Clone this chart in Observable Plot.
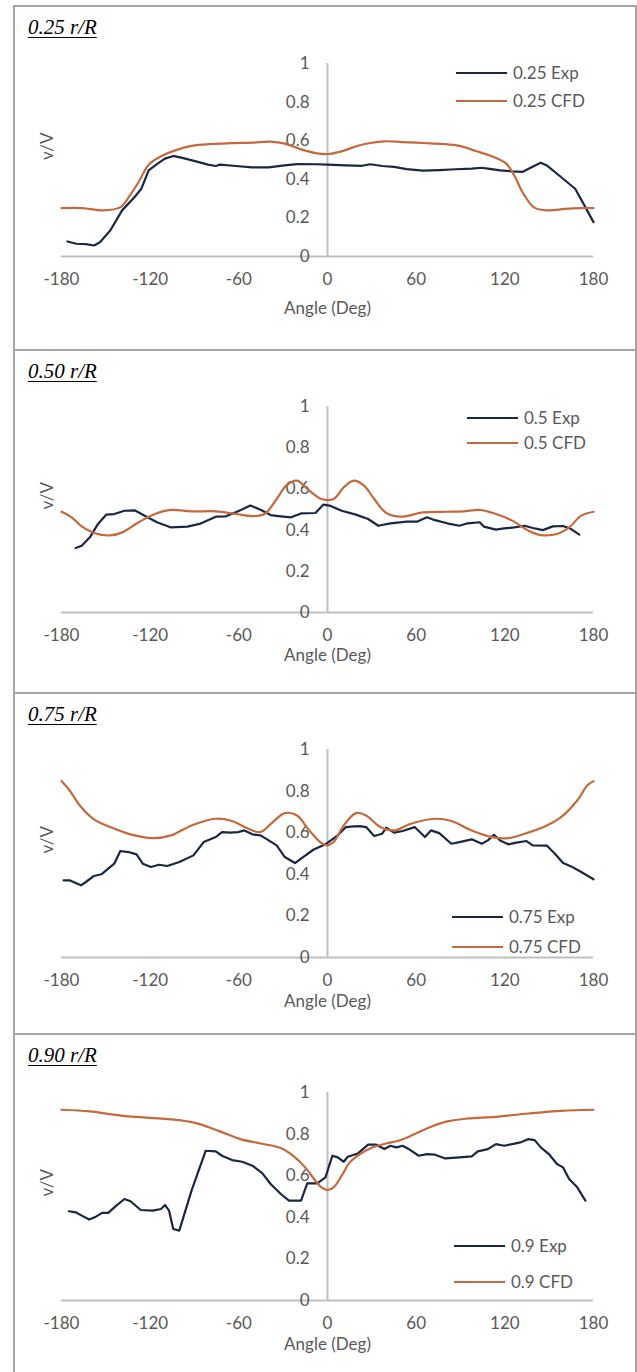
<!DOCTYPE html>
<html><head><meta charset="utf-8">
<script src="https://cdn.jsdelivr.net/npm/d3@7"></script>
<script src="https://cdn.jsdelivr.net/npm/@observablehq/plot@0.6"></script>
<style>
body{margin:0;background:#fff;}
#page{position:relative;width:637px;height:1372px;overflow:hidden;font-family:Lato,"Open Sans",sans-serif;background:#fff;}
.panel{position:absolute;left:13px;width:624px;border:2px solid #a6a6a6;border-bottom:none;box-sizing:border-box;}
.title{position:absolute;left:28px;font-family:"Liberation Serif","Times New Roman",serif;font-style:italic;font-size:21px;line-height:21px;text-decoration:underline;text-decoration-thickness:1px;text-underline-offset:3px;color:#000;white-space:nowrap;}
.chart{position:absolute;left:0;}
.lg-line{position:absolute;height:2.4px;width:51px;}
.lg-text{position:absolute;font-size:17px;line-height:20px;color:#595959;white-space:nowrap;}
</style></head>
<body><div id="page"></div>
<script>
// ---- data ----
const xTicks = [-180, -120, -60, 0, 60, 120, 180];
const yTicks = [0, 0.2, 0.4, 0.6, 0.8, 1];
const yTickLabels = ["0", "0.2", "0.4", "0.6", "0.8", "1"];
const xTitle = "Angle (Deg)";
const yTitle = "v/V";
const panelTitles = ["0.25 r/R", "0.50 r/R", "0.75 r/R", "0.90 r/R"];
const expNames = ["0.25 Exp", "0.5 Exp", "0.75 Exp", "0.9 Exp"];
const cfdNames = ["0.25 CFD", "0.5 CFD", "0.75 CFD", "0.9 CFD"];

const exp025 = [[-176,0.078],[-170,0.066],[-163.5,0.064],[-158,0.057],[-154,0.074],[-147,0.135],[-139,0.239],[-130.5,0.308],[-126,0.351],[-121,0.446],[-115,0.481],[-110,0.507],[-104.4,0.521],[-97.6,0.51],[-89,0.493],[-81,0.476],[-75.6,0.469],[-72.8,0.476],[-62,0.469],[-51,0.462],[-40,0.462],[-29,0.472],[-20.6,0.479],[-7,0.478],[0,0.476],[12.4,0.472],[23.4,0.47],[28.9,0.478],[37,0.469],[45,0.464],[53.6,0.453],[64.6,0.445],[75.6,0.448],[86.6,0.452],[97.6,0.455],[104.4,0.46],[108.5,0.455],[116.8,0.446],[125,0.441],[131.9,0.438],[137.4,0.46],[144.3,0.486],[148.4,0.472],[158,0.412],[167.6,0.351],[174.5,0.256],[180,0.178]];
const cfd025 = [[-180,0.251],[-166,0.251],[-152.5,0.239],[-140,0.256],[-133,0.325],[-127.8,0.386],[-121,0.476],[-112.7,0.519],[-103,0.55],[-92,0.573],[-78.3,0.583],[-64.6,0.587],[-50.8,0.59],[-38.5,0.595],[-28.9,0.585],[-17.9,0.555],[-8.2,0.536],[0,0.531],[9.6,0.545],[20.6,0.574],[28.9,0.588],[38.5,0.597],[50.8,0.593],[64.6,0.588],[78.3,0.583],[89.3,0.573],[100.3,0.547],[111.3,0.519],[120.9,0.481],[126.4,0.42],[131.9,0.334],[140,0.253],[149.8,0.239],[160.8,0.247],[171.7,0.251],[180,0.251]];

const exp050 = [[-170.4,0.313],[-166.3,0.324],[-160.8,0.365],[-155.3,0.43],[-149.8,0.475],[-144.3,0.478],[-137.4,0.494],[-130.5,0.496],[-123.7,0.47],[-115.4,0.438],[-105.8,0.413],[-94.8,0.417],[-86.6,0.43],[-75.6,0.465],[-68.7,0.467],[-60.5,0.491],[-52.2,0.519],[-45.3,0.499],[-38.5,0.473],[-31.6,0.467],[-24.7,0.462],[-17.9,0.481],[-8.2,0.483],[-2.7,0.524],[1.4,0.519],[9.6,0.494],[19.2,0.475],[27.5,0.454],[34.4,0.421],[42.6,0.433],[53.6,0.441],[60.5,0.441],[67.3,0.462],[71.4,0.451],[81,0.433],[89.3,0.421],[94.8,0.433],[103,0.438],[105.8,0.417],[114,0.402],[119.5,0.408],[126.4,0.413],[133.3,0.421],[140.2,0.408],[145.7,0.4],[152.5,0.418],[159.4,0.42],[164.9,0.405],[170.4,0.378]];
const cfd050 = [[-180,0.489],[-173.1,0.462],[-166.3,0.418],[-158,0.386],[-147,0.374],[-138.8,0.389],[-127.8,0.438],[-116.8,0.478],[-105.8,0.498],[-92,0.491],[-75.6,0.491],[-61.8,0.478],[-50.8,0.468],[-42.6,0.478],[-34.4,0.551],[-27.5,0.619],[-20.6,0.64],[-12.4,0.592],[-4.1,0.551],[4.1,0.551],[11,0.608],[17.9,0.64],[24.7,0.616],[31.6,0.551],[39.8,0.483],[49.5,0.465],[64.6,0.486],[81,0.489],[92,0.491],[103,0.498],[114,0.478],[125,0.446],[136,0.397],[144.3,0.376],[155.3,0.381],[163.5,0.413],[171.7,0.47],[180,0.489]];

const exp075 = [[-178.6,0.371],[-174.5,0.371],[-170.4,0.358],[-166.8,0.347],[-163.5,0.363],[-158,0.392],[-153,0.4],[-148.4,0.427],[-144.3,0.451],[-140.2,0.512],[-134.7,0.507],[-129.2,0.496],[-125,0.451],[-119.5,0.435],[-114,0.446],[-108.5,0.44],[-100.3,0.459],[-90.7,0.491],[-83.8,0.555],[-75.6,0.579],[-71.4,0.603],[-66,0.6],[-60.5,0.603],[-56.3,0.611],[-50.8,0.592],[-45.3,0.587],[-39.8,0.563],[-34.4,0.539],[-28.9,0.483],[-22,0.454],[-16.5,0.483],[-9.6,0.518],[-1.4,0.544],[6.9,0.587],[12.4,0.627],[17.9,0.63],[22,0.632],[26.1,0.627],[31.6,0.584],[37,0.595],[39.8,0.624],[45.3,0.6],[50.8,0.608],[59,0.627],[65.9,0.579],[70,0.611],[75.6,0.598],[83.8,0.547],[89.3,0.555],[97.6,0.568],[104.4,0.547],[108.5,0.563],[112.6,0.59],[116.8,0.563],[122.3,0.544],[127.8,0.552],[134.7,0.56],[138.8,0.539],[148.4,0.538],[153.9,0.499],[159.4,0.454],[164.9,0.438],[171.7,0.411],[180,0.376]];
const cfd075 = [[-180,0.848],[-174.5,0.803],[-167.6,0.731],[-158,0.664],[-147,0.627],[-133.3,0.592],[-118.2,0.574],[-105.8,0.587],[-92,0.635],[-75.6,0.667],[-64.6,0.656],[-53.6,0.619],[-45.3,0.603],[-37,0.651],[-28.9,0.694],[-20.6,0.683],[-12.4,0.611],[-4.1,0.55],[0,0.539],[4.1,0.555],[11,0.635],[19.2,0.694],[26.1,0.683],[35.7,0.627],[45.3,0.611],[56.3,0.643],[72.8,0.667],[83.8,0.656],[97.6,0.611],[111.3,0.579],[122.3,0.574],[133.3,0.595],[147,0.63],[158,0.675],[169,0.755],[175.8,0.827],[180,0.848]];

const exp090 = [[-175,0.429],[-170.4,0.424],[-166.3,0.408],[-161.3,0.389],[-156.7,0.403],[-152.5,0.421],[-148.4,0.421],[-142.9,0.456],[-137.4,0.488],[-133.3,0.477],[-126.4,0.435],[-118.2,0.432],[-112.7,0.44],[-109.9,0.459],[-107.2,0.432],[-104.4,0.344],[-100.3,0.336],[-92,0.528],[-82.4,0.72],[-75.6,0.717],[-71.4,0.696],[-64.6,0.675],[-57.7,0.667],[-50.8,0.648],[-44,0.611],[-38.5,0.56],[-31.6,0.512],[-26.1,0.48],[-17.9,0.48],[-13.7,0.563],[-6.9,0.563],[-1.4,0.592],[3.3,0.696],[6.9,0.688],[11,0.667],[13.7,0.691],[20.6,0.707],[27.5,0.749],[33,0.749],[38.5,0.728],[42.6,0.744],[46.7,0.736],[50.8,0.744],[55,0.728],[61.8,0.696],[67.3,0.704],[72.8,0.701],[79.7,0.683],[89.3,0.688],[97.6,0.693],[101.7,0.717],[108.5,0.728],[114,0.752],[119.5,0.744],[125,0.752],[130.5,0.76],[136,0.776],[140.2,0.771],[144.3,0.736],[149.8,0.704],[155.3,0.656],[159.4,0.64],[163.5,0.584],[169,0.544],[174.5,0.48]];
const cfd090 = [[-180,0.917],[-160.8,0.909],[-138.8,0.888],[-116.8,0.877],[-100.3,0.867],[-86.6,0.848],[-72.8,0.813],[-59,0.776],[-45.3,0.755],[-31.6,0.733],[-23.4,0.696],[-15.1,0.64],[-8.2,0.576],[-4.1,0.544],[0,0.531],[4.1,0.544],[9.6,0.6],[15.1,0.664],[22,0.704],[30.2,0.736],[39.8,0.755],[48.1,0.768],[59,0.8],[70,0.835],[81,0.861],[94.8,0.875],[114,0.883],[136,0.899],[158,0.912],[180,0.917]];

const expSeries = [exp025, exp050, exp075, exp090];
const cfdSeries = [cfd025, cfd050, cfd075, cfd090];

// ---- layout (page pixels) ----
const EXP_COLOR = "#1b2742";
const CFD_COLOR = "#c4693d";
const AXIS_COLOR = "#bfbfbf";
const TEXT_COLOR = "#595959";
const layout = [
  {top: 5,    h: 344, mt: 58, mb: 93, xTitleDy: 57, lgX: 456, lgY: [73, 101]},
  {top: 349,  h: 343, mt: 57, mb: 80, xTitleDy: 48, lgX: 467, lgY: [418, 443]},
  {top: 692,  h: 341, mt: 57, mb: 76, xTitleDy: 49, lgX: 452, lgY: [917, 947]},
  {top: 1033, h: 339, mt: 59, mb: 72, xTitleDy: 49, lgX: 454, lgY: [1246, 1282]}
];

const page = document.getElementById("page");
layout.forEach((L, i) => {
  const border = document.createElement("div");
  border.className = "panel";
  border.style.top = L.top + "px";
  border.style.height = (i === 3 ? 1372 - L.top + 4 : L.h + 2) + "px";
  page.appendChild(border);

  const exp = expSeries[i].map(([a, v]) => ({a, v}));
  const cfd = cfdSeries[i].map(([a, v]) => ({a, v}));

  const chart = Plot.plot({
    width: 637, height: L.h,
    marginLeft: 61, marginRight: 44, marginTop: L.mt, marginBottom: L.mb,
    x: {domain: [-180, 180]},
    y: {domain: [0, 1]},
    style: {fontFamily: "Lato, 'Open Sans', sans-serif", fontSize: "17px", color: TEXT_COLOR, background: "transparent", overflow: "visible"},
    marks: [
      Plot.ruleY([0], {stroke: AXIS_COLOR, strokeWidth: 2}),
      Plot.ruleX([0], {y1: 0, y2: 1, stroke: AXIS_COLOR, strokeWidth: 2}),
      Plot.axisX(xTicks, {tickSize: 0, tickPadding: 16, label: null, tickFormat: d => String(d), fill: TEXT_COLOR}),
      Plot.axisY({ticks: [], label: null, tickSize: 0}),
      Plot.text(yTicks, {x: 0, y: d => d, text: (d, j) => yTickLabels[j], dx: -18, textAnchor: "end", fill: TEXT_COLOR}),
      Plot.text([xTitle], {frameAnchor: "bottom", dy: L.xTitleDy, fill: TEXT_COLOR}),
      Plot.text([yTitle], {frameAnchor: "left", rotate: -90, dx: -14, fill: TEXT_COLOR}),
      Plot.line(exp, {x: "a", y: "v", stroke: EXP_COLOR, strokeWidth: 2.2, strokeLinejoin: "round"}),
      Plot.line(cfd, {x: "a", y: "v", stroke: CFD_COLOR, strokeWidth: 2.2, curve: "catmull-rom"})
    ]
  });
  chart.classList.add("chart");
  chart.style.top = L.top + "px";
  page.appendChild(chart);

  const title = document.createElement("div");
  title.className = "title";
  title.textContent = panelTitles[i];
  title.style.top = (L.top + 12) + "px";
  page.appendChild(title);

  [[expNames[i], EXP_COLOR], [cfdNames[i], CFD_COLOR]].forEach(([name, color], k) => {
    const ln = document.createElement("div");
    ln.className = "lg-line";
    ln.style.background = color;
    ln.style.left = L.lgX + "px";
    ln.style.top = (L.lgY[k] - 1) + "px";
    page.appendChild(ln);
    const tx = document.createElement("div");
    tx.className = "lg-text";
    tx.textContent = name;
    tx.style.left = (L.lgX + 57) + "px";
    tx.style.top = (L.lgY[k] - 10) + "px";
    page.appendChild(tx);
  });
});
</script>
</body></html>
